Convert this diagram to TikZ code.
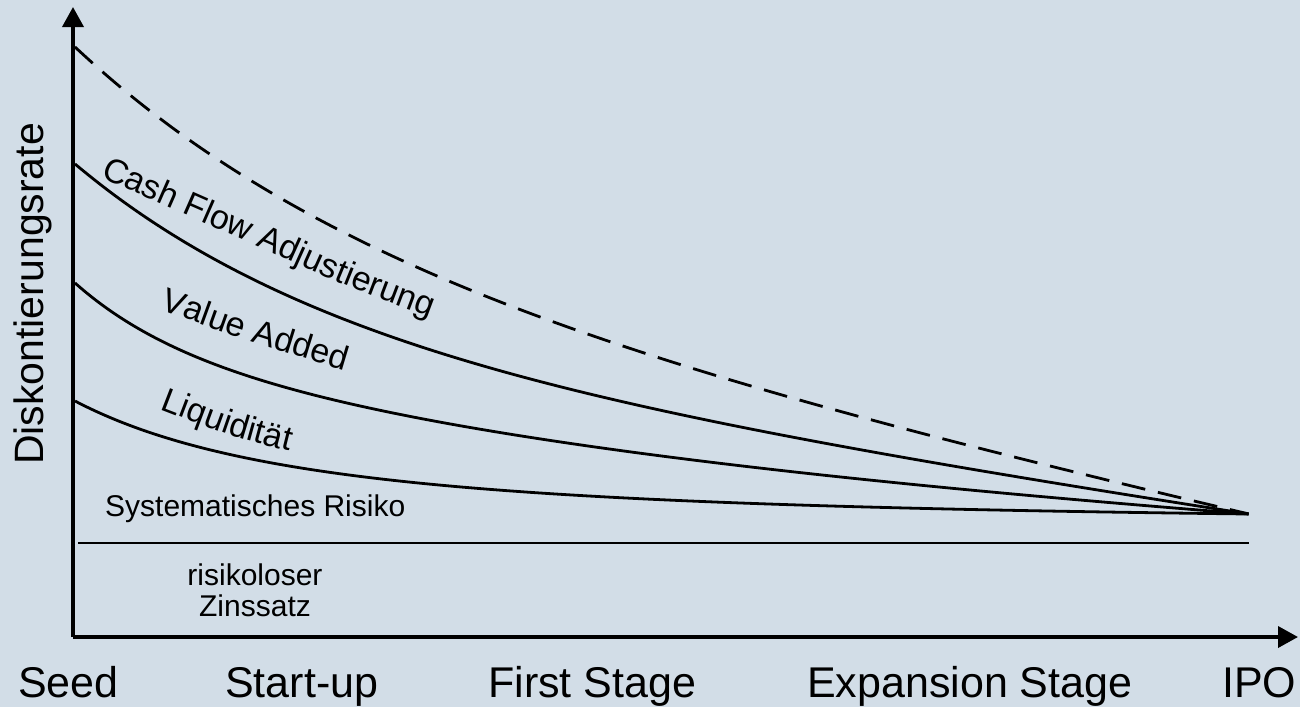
\documentclass[tikz,border=0pt]{standalone}
\usepackage{fontspec}
\setmainfont{Liberation Sans}
\usetikzlibrary{arrows.meta,decorations.text}
\definecolor{bgcol}{RGB}{210,221,231}
\newcommand\lblfont{\fontsize{34}{34}\selectfont}
\tikzset{
  axis/.style={line width=3.6pt,-{Triangle[length=20pt,width=21pt]}},
  curve/.style={line width=2.8pt,line join=round},
  dashcurve/.style={curve,dash pattern=on 24pt off 13pt},
  rfline/.style={line width=2.6pt},
  stagelbl/.style={font=\fontsize{43}{43}\selectfont,anchor=base west,inner sep=0pt},
  smalllbl/.style={font=\fontsize{30}{31}\selectfont,inner sep=0pt},
  curvelbl/.style={decorate,decoration={text along path,text align=left}},
  declare function={hh(\p,\q)=(exp(-\q*\p)-exp(-\q))/(1-exp(-\q));}
}
\begin{document}
\begin{tikzpicture}[x=1pt,y=-1pt]
\fill[bgcol] (0,0) rectangle (1300,707);
\useasboundingbox (0,0) rectangle (1300,707);
% axes
\coordinate (origin) at (73,637);
\coordinate (ytip) at (73,7);
\coordinate (xtip) at (1298,637);
\draw[axis] (origin) -- (ytip);
\draw[axis] (origin) -- (xtip);
% risk-free line
\coordinate (rf0) at (78,543);
\coordinate (rf1) at (1249,543);
\draw[rfline] (rf0) -- (rf1);
\coordinate (conv) at (1249,514);
% curves (t from 0 to 1 between x=75 and x=1249)
\draw[dashcurve] plot[domain=0:1,samples=160,smooth] ({75+1174*\x},{514-467*(0.56*(1-\x)+0.44*hh(\x,4))});
\draw[curve] plot[domain=0:1,samples=160,smooth] ({75+1174*\x},{514-350*(0.5*(1-\x)+0.5*hh(\x,4.6))});
\draw[curve] plot[domain=0:1,samples=160,smooth] ({75+1174*\x},{514-231*(0.3*(1-\x)+0.45*hh(\x,2.5)+0.25*hh(\x,12))});
\draw[curve] plot[domain=0:1,samples=160,smooth] ({75+1174*\x},{514-113*((1/((1+2.5*\x)*(1+2.5*\x))-0.081633)/0.918367)});
% curve labels
\path[curvelbl,decoration={text={|\lblfont|Cash Flow Adjustierung}}] plot[smooth] coordinates {(100,177) (175,210) (250,243) (340,283) (437,320) (480,335)};
\path[curvelbl,decoration={text={|\lblfont|Value Added}}] plot[smooth] coordinates {(160,309) (240,338) (350,372) (390,381)};
\path[curvelbl,decoration={text={|\lblfont|Liquidität}}] plot[smooth] coordinates {(160,409) (230,435) (297,453) (330,459)};
% texts
\node[smalllbl,anchor=base west] (sys) at (105,516) {Systematisches Risiko};
\node[smalllbl,align=center,anchor=base] (rf) at (255,616) {risikoloser\\Zinssatz};
\node[font=\fontsize{41}{41}\selectfont,rotate=90,anchor=base west,inner sep=0pt] (ylab) at (43,465) {Diskontierungsrate};
\node[stagelbl] (seed) at (18,697) {Seed};
\node[stagelbl] (start) at (225,697) {Start-up};
\node[stagelbl] (first) at (488,697) {First Stage};
\node[stagelbl] (exp) at (807,697) {Expansion Stage};
\node[stagelbl] (ipo) at (1222,697) {IPO};
\end{tikzpicture}
\end{document}
